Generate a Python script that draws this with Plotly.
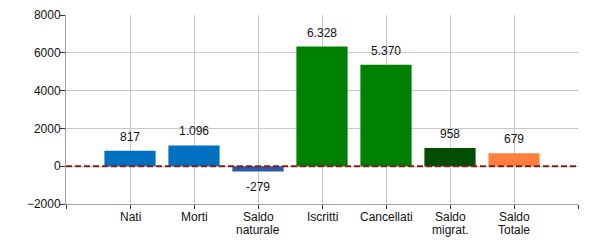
import plotly.graph_objects as go

categories = ["Nati", "Morti", "Saldo<br>naturale", "Iscritti", "Cancellati", "Saldo<br>migrat.", "Saldo<br>Totale"]
values = [817, 1096, -279, 6328, 5370, 958, 679]
colors = ["#0070C0", "#0070C0", "#2A5AA5", "#008000", "#008000", "#004F00", "#FF7F3F"]
y_ticks = [-2000, 0, 2000, 4000, 6000, 8000]

xpos = list(range(1, len(categories) + 1))
FONT = dict(family="Liberation Sans, Arial", size=12, color="#111111")

def fmt(v):
    s = f"{abs(v):,}".replace(",", ".")
    return ("-" if v < 0 else "") + s

fig = go.Figure()
fig.add_trace(go.Bar(x=xpos, y=values, marker=dict(color=colors, line=dict(width=0)),
                     width=0.8, hoverinfo="skip"))

for x, v in zip(xpos, values):
    fig.add_annotation(x=x, y=v, text=fmt(v), showarrow=False,
                       yanchor="bottom" if v >= 0 else "top",
                       yshift=5 if v >= 0 else -7, font=FONT)

# category labels (with tight line spacing)
for x, cat in zip(xpos, categories):
    for i, line in enumerate(cat.split("<br>")):
        fig.add_annotation(x=x, y=-2000, xref="x", yref="y", text=line, showarrow=False,
                           yanchor="middle", yshift=-13 - 13 * i, font=FONT)

fig.add_shape(type="line", xref="x", yref="y", x0=0, x1=8, y0=0, y1=0,
              line=dict(color="#8B1A1A", width=2, dash="6px,3px"), layer="above")

fig.update_layout(
    width=600, height=250,
    margin=dict(l=66, r=22, t=15, b=46),
    paper_bgcolor="white", plot_bgcolor="white",
    showlegend=False,
    font=FONT,
    xaxis=dict(range=[0, 8], tickvals=list(range(0, 9)),
               ticktext=[""] * 9,
               showgrid=True, gridcolor="#C8C8C8", gridwidth=1,
               showline=True, linecolor="#A0A0A0", linewidth=1,
               ticks="outside", ticklen=4, tickcolor="#333333",
               zeroline=False, mirror=False, automargin=False),
    yaxis=dict(range=[-2000, 8000], tickvals=y_ticks, tickformat="d",
               showgrid=True, gridcolor="#C8C8C8", gridwidth=1,
               showline=True, linecolor="#A0A0A0", linewidth=1,
               ticks="outside", ticklen=5, tickcolor="#333333",
               ticklabelstandoff=-3,
               zeroline=False, automargin=False),
)

fig.write_html("out.html")
